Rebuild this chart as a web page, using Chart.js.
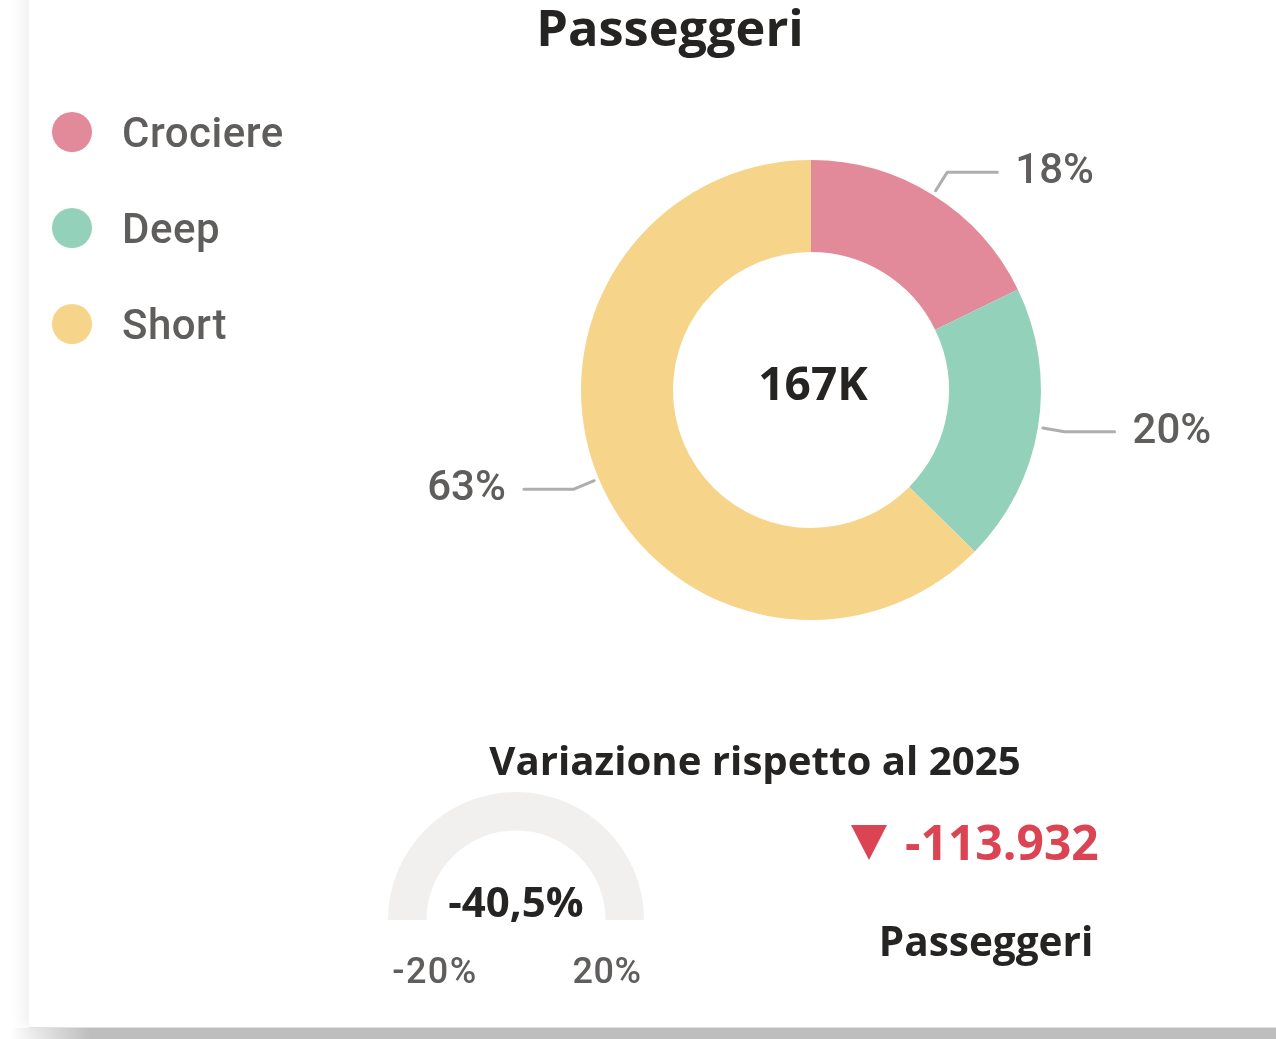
<!DOCTYPE html>
<html><head><meta charset="utf-8">
<script src="https://cdn.jsdelivr.net/npm/chart.js@4.4.1/dist/chart.umd.min.js"></script>
<style>
html,body{margin:0;padding:0;width:1276px;height:1039px;overflow:hidden;background:#fff;}
#card{position:absolute;left:29px;top:-20px;width:1300px;height:1047px;background:#fff;box-shadow:-7px 0 14px rgba(0,0,0,0.06);}
#band{position:absolute;left:0;top:1028px;width:1276px;height:11px;background:linear-gradient(to right,rgba(190,190,190,0) 10px,#bebebe 90px);}
#line{position:absolute;left:29px;top:1027px;width:1247px;height:1px;background:#e2e2e2;}
.t{position:absolute;white-space:nowrap;line-height:1;}
.seg{font-family:"Open Sans",sans-serif;font-weight:700;color:#252423;}
.din{font-family:Roboto,sans-serif;font-weight:500;color:#605E5C;}
.dot{position:absolute;width:40px;height:40px;border-radius:50%;}
#tri{position:absolute;width:0;height:0;border-left:18.5px solid transparent;border-right:18.5px solid transparent;border-top:35px solid #DB4452;}
</style></head>
<body>
<div id="card"></div><div id="line"></div><div id="band"></div>
<canvas id="donut" width="1276" height="1039" style="position:absolute;left:0;top:0;"></canvas>
<canvas id="gauge" width="256" height="128" style="position:absolute;left:388px;top:792px;"></canvas>
<div id="texts"></div>
<div id="tri" style="left:851px;top:825px;"></div>
<script>
// ---- data ----
const chartTitle = 'Passeggeri';
const categories = ['Crociere', 'Deep', 'Short'];
const passengers = [29700, 32700, 104500];
const gaugeTitle = 'Variazione rispetto al 2025';
const gaugeValue = -40.5;
const gaugeMin = -20;
const gaugeMax = 20;
const kpiValue = -113932;
const kpiLabel = 'Passeggeri';

// ---- styles ----
const sliceColors = ['#E38A9A', '#93D1BA', '#F6D48A'];
const ink = '#252423';
const grayText = '#605E5C';

const texts = document.getElementById('texts');
function addText(str, cls, x, baseline, align, size, extra){
  const el = document.createElement('div');
  el.className = 't ' + cls;
  el.style.fontSize = size + 'px';
  if (extra) Object.assign(el.style, extra);
  el.textContent = str;
  texts.appendChild(el);
  el.style.left = '0px'; el.style.top = '0px';
  const m = document.createElement('span');
  m.style.cssText = 'display:inline-block;width:0;height:0;vertical-align:baseline;';
  el.appendChild(m);
  const r = el.getBoundingClientRect(), mr = m.getBoundingClientRect();
  const off = mr.top - r.top, w = r.width;
  const left = align === 'center' ? x - w / 2 : align === 'right' ? x - w : x;
  el.style.left = left + 'px';
  el.style.top = (baseline - off) + 'px';
  return el;
}
function itNumber(v){
  const s = Math.abs(Math.round(v)).toString().replace(/\B(?=(\d{3})+(?!\d))/g, '.');
  return (v < 0 ? '-' : '') + s;
}

// title
addText(chartTitle, 'seg', 670, 46, 'center', 50.5);

// legend
categories.forEach((c, i) => {
  const cy = 132 + i * 96;
  const d = document.createElement('div');
  d.className = 'dot';
  d.style.left = (72 - 20) + 'px'; d.style.top = (cy - 20) + 'px';
  d.style.background = sliceColors[i];
  texts.appendChild(d);
  addText(c, 'din', 122, cy + 15, 'left', 42, { letterSpacing: '0.5px' });
});

// donut
const leaderPlugin = {
  id: 'leaders',
  afterDatasetsDraw(chart) {
    const ctx = chart.ctx;
    const meta = chart.getDatasetMeta(0);
    const data = chart.data.datasets[0].data;
    const total = data.reduce((a, b) => a + b, 0);
    let cx = 0, cy = 0;
    meta.data.forEach((arc, i) => {
      const p = arc.getProps(['x', 'y', 'startAngle', 'endAngle', 'outerRadius'], true);
      cx = p.x; cy = p.y;
      const mid = (p.startAngle + p.endAngle) / 2;
      const c = Math.cos(mid), s = Math.sin(mid);
      const x0 = p.x + c * (p.outerRadius + 5), y0 = p.y + s * (p.outerRadius + 5);
      const x1 = p.x + c * (p.outerRadius + 27), y1 = p.y + s * (p.outerRadius + 27);
      const dir = c >= 0 ? 1 : -1;
      const x2 = x1 + dir * 50;
      ctx.save();
      ctx.strokeStyle = '#AEAEAE'; ctx.lineWidth = 3; ctx.lineCap = 'round'; ctx.lineJoin = 'round';
      ctx.beginPath(); ctx.moveTo(x0, y0); ctx.lineTo(x1, y1); ctx.lineTo(x2, y1); ctx.stroke();
      ctx.font = '500 42px Roboto';
      ctx.fillStyle = grayText;
      ctx.textAlign = dir > 0 ? 'left' : 'right';
      ctx.textBaseline = 'alphabetic';
      ctx.fillText(Math.round(data[i] / total * 100) + '%', x2 + dir * 18, y1 + 11);
      ctx.restore();
    });
    ctx.save();
    ctx.font = 'bold 46px "Open Sans"';
    ctx.fillStyle = ink; ctx.textAlign = 'center'; ctx.textBaseline = 'alphabetic';
    ctx.fillText(Math.round(total / 1000) + 'K', cx + 2, cy + 10);
    ctx.restore();
  }
};
new Chart(document.getElementById('donut'), {
  type: 'doughnut',
  data: { labels: categories, datasets: [{ data: passengers, backgroundColor: sliceColors, borderWidth: 0 }] },
  options: {
    responsive: false, animation: false, cutout: '60%',
    layout: { padding: { left: 581, right: 235, top: 160, bottom: 419 } },
    plugins: { legend: { display: false }, tooltip: { enabled: false } }
  },
  plugins: [leaderPlugin]
});

// gauge
const clamped = Math.min(Math.max(gaugeValue, gaugeMin), gaugeMax);
const gaugeFill = [clamped - gaugeMin, gaugeMax - clamped];
new Chart(document.getElementById('gauge'), {
  type: 'doughnut',
  data: { labels: ['Valore', 'Resto'], datasets: [{ data: gaugeFill, backgroundColor: ['#118DFF', '#F1F0EF'], borderWidth: 0 }] },
  options: {
    responsive: false, animation: false, cutout: '70%', rotation: -90, circumference: 180,
    layout: { padding: 0 },
    plugins: { legend: { display: false }, tooltip: { enabled: false } }
  }
});
addText(gaugeTitle, 'seg', 755, 775, 'center', 40.2);
addText(gaugeValue.toFixed(1).replace('.', ',') + '%', 'seg', 516, 917, 'center', 42);
addText(gaugeMin + '%', 'din', 435, 983, 'center', 36, { letterSpacing: '1.5px' });
addText(gaugeMax + '%', 'din', 607, 983, 'center', 36, { letterSpacing: '0.5px' });

// KPI
addText(itNumber(kpiValue), 'seg', 905, 860, 'left', 48, { color: '#DB4452' });
addText(kpiLabel, 'seg', 986, 956, 'center', 40.5);
</script>
</body></html>
